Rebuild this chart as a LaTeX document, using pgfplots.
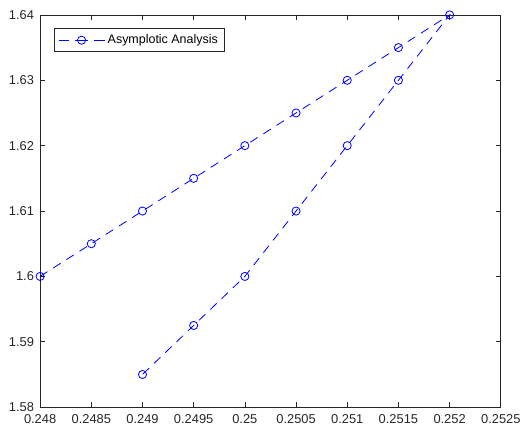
\documentclass[border=0pt]{standalone}
\usepackage{pgfplots}
\pgfplotsset{compat=1.18}
\usepackage{fontspec}
\setmainfont{Liberation Sans}
\definecolor{axgray}{RGB}{38,38,38}
\begin{document}
\begin{tikzpicture}
\begin{axis}[
  scale only axis,
  width=340pt, height=289.5pt,
  xmin=0.248, xmax=0.2525,
  ymin=1.58, ymax=1.64,
  xtick={0.248,0.2485,0.249,0.2495,0.25,0.2505,0.251,0.2515,0.252,0.2525},
  ytick={1.58,1.59,1.6,1.61,1.62,1.63,1.64},
  xticklabels={0.248,0.2485,0.249,0.2495,0.25,0.2505,0.251,0.2515,0.252,0.2525},
  yticklabels={1.58,1.59,1.6,1.61,1.62,1.63,1.64},
  scaled ticks=false,
  tick align=inside,
  major tick length=3.5pt,
  tick style={axgray, line width=0.5pt},
  axis line style={axgray, line width=0.5pt},
  ticklabel style={font=\fontsize{9.5}{11}\selectfont, text=axgray},
  /pgf/number format/assume math mode=true,
  xticklabel style={yshift=-2.2pt},
  yticklabel style={xshift=-1pt},
  legend style={at={(0.031,0.966)}, anchor=north west, draw=axgray, line width=0.5pt,
    font=\fontsize{9.2}{11}\selectfont, inner sep=2.5pt},
  legend cell align=left,
  legend image code/.code={\draw[mark repeat=2,mark phase=2,#1,
     dash pattern=on 8pt off 4.5pt on 9pt off 4.5pt on 8pt off 20pt]
     plot coordinates {(0pt,0pt) (17pt,0pt) (34pt,0pt)};},
]
\addplot[blue, line width=0.6pt, dash pattern=on 6.5pt off 5pt,
  mark=o, mark size=3pt, mark options={solid}] coordinates {
(0.248,1.600) (0.2485,1.605) (0.249,1.610) (0.2495,1.615) (0.250,1.620)
(0.2505,1.625) (0.251,1.630) (0.2515,1.635) (0.252,1.640)
(0.2515,1.630) (0.251,1.620) (0.2505,1.610) (0.250,1.600) (0.2495,1.5925) (0.249,1.585)
};
\addlegendentry{Asymplotic Analysis}
\path (rel axis cs:0,1) ++(-29.6pt,11pt) coordinate (topext);
\end{axis}
\path (topext);
\end{tikzpicture}
\end{document}
